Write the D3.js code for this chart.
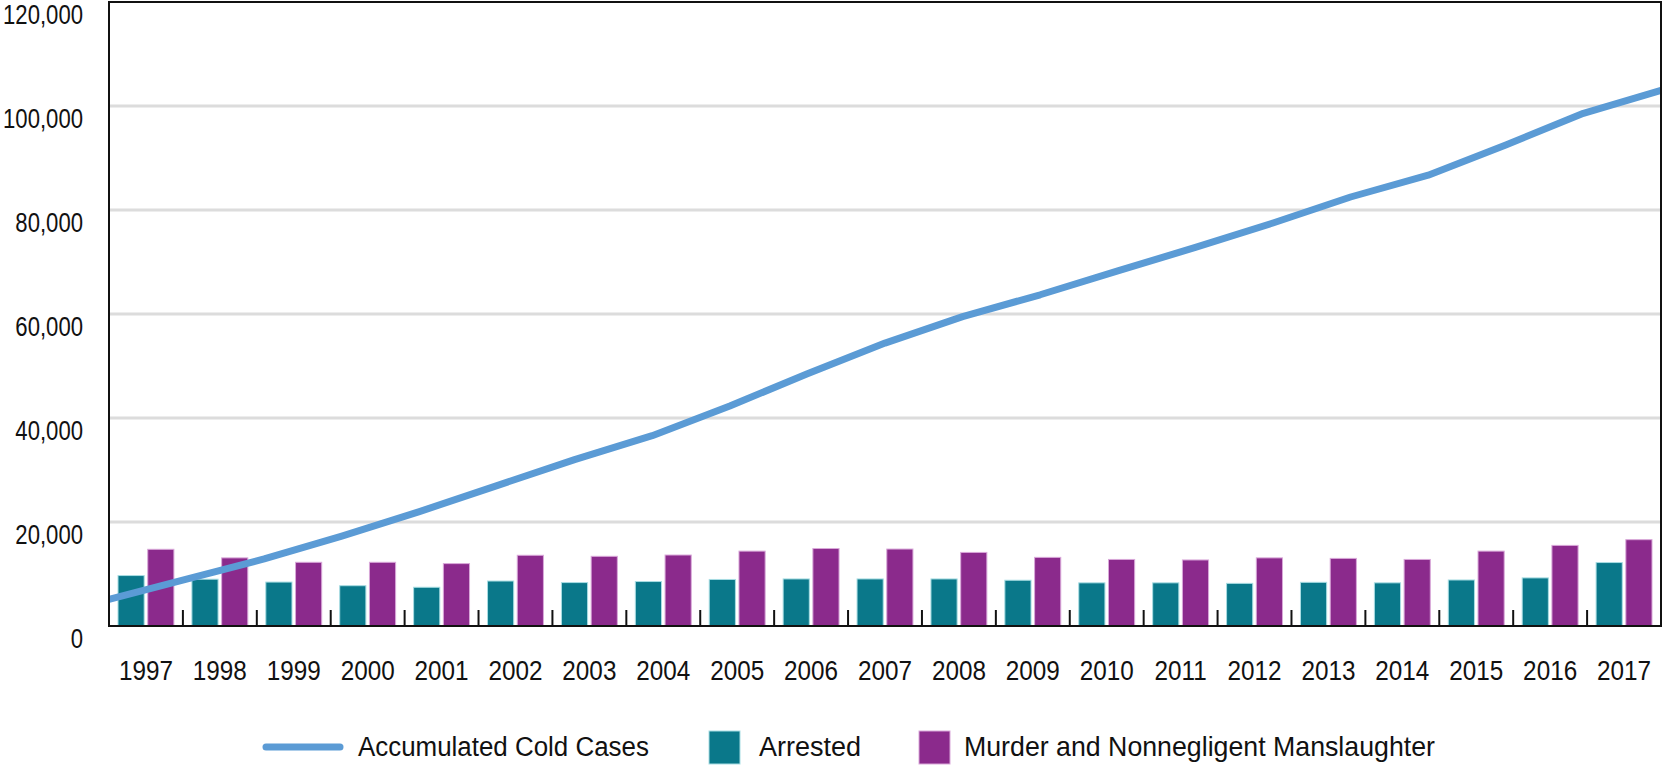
<!DOCTYPE html>
<html>
<head>
<meta charset="utf-8">
<script src="https://cdn.jsdelivr.net/npm/d3@7/dist/d3.min.js"></script>
<style>
  html, body { margin: 0; padding: 0; background: #fff; }
  svg { display: block; }
  text { font-family: "Liberation Sans Narrow", "Arial Narrow", "Liberation Sans", sans-serif; fill: #111; }
</style>
</head>
<body>
<svg id="chart" width="1664" height="765"></svg>
<script>
const years = ["1997","1998","1999","2000","2001","2002","2003","2004","2005","2006","2007","2008","2009","2010","2011","2012","2013","2014","2015","2016","2017"];
const arrested = [9700, 9000, 8450, 7750, 7450, 8650, 8350, 8550, 8950, 9050, 9050, 9050, 8800, 8300, 8300, 8200, 8400, 8300, 8850, 9250, 12200];
const murder = [14750, 13100, 12250, 12250, 12000, 13600, 13400, 13650, 14400, 14900, 14800, 14150, 13200, 12800, 12700, 13100, 13000, 12800, 14400, 15500, 16600];
const coldCases = [5100, 9000, 12900, 17300, 22000, 27000, 32000, 36600, 42300, 48500, 54400, 59500, 63700, 68300, 72800, 77500, 82500, 86700, 92500, 98600, 103000];
const yTicks = [0, 20000, 40000, 60000, 80000, 100000, 120000];
const seriesNames = ["Accumulated Cold Cases", "Arrested", "Murder and Nonnegligent Manslaughter"];

const colors = { line: "#5b9bd5", arrested: "#0a788a", murder: "#8b2a8c" };
const strokes = { arrested: "#a8dde3", murder: "#d9a8d9" };

const svg = d3.select("#chart");
const L = 109, R = 1661, T = 2, B = 626;

const x = d3.scaleBand().domain(years).range([L, R]).paddingInner(0).paddingOuter(0);
const x1 = d3.scaleBand().domain(["arrested", "murder"]).range([9, x.bandwidth() - 9]).paddingInner(0.12);
const xLine = d3.scalePoint().domain(years).range([L, R]).padding(0);
const y = d3.scaleLinear().domain([0, 120000]).range([B, T]);

// gridlines
svg.append("g").selectAll("line").data(yTicks.filter(d => d > 0 && d < 120000)).join("line")
  .attr("x1", L).attr("x2", R).attr("y1", d => y(d)).attr("y2", d => y(d))
  .attr("stroke", "#dcdcdc").attr("stroke-width", 3);

// y labels (condensed via horizontal scale)
const fmt = d3.format(",");
svg.append("g").selectAll("text").data(yTicks).join("text")
  .attr("transform", d => `translate(83,${y(d) + 13}) scale(0.82,1)`)
  .attr("dy", "0.35em")
  .attr("text-anchor", "end").attr("font-size", 27).text(d => fmt(d));

// bars
const g = svg.append("g");
years.forEach((yr, i) => {
  const vals = [["arrested", arrested[i]], ["murder", murder[i]]];
  g.selectAll(null).data(vals).join("rect")
    .attr("x", d => x(yr) + x1(d[0]))
    .attr("width", x1.bandwidth())
    .attr("y", d => y(d[1]))
    .attr("height", d => B - y(d[1]))
    .attr("fill", d => colors[d[0]])
    .attr("stroke", d => strokes[d[0]])
    .attr("stroke-width", 1);
});

// line
const line = d3.line().x((d, i) => xLine(years[i])).y(d => y(d));
svg.append("path").datum(coldCases).attr("d", line)
  .attr("fill", "none").attr("stroke", colors.line).attr("stroke-width", 7)
  .attr("stroke-linejoin", "round");

// frame
svg.append("rect").attr("x", L).attr("y", T).attr("width", R - L).attr("height", B - T)
  .attr("fill", "none").attr("stroke", "#111").attr("stroke-width", 2);

// x ticks (band boundaries, pointing up)
const boundaries = years.slice(1).map(yr => x(yr)).concat([R]);
svg.append("g").selectAll("line").data(boundaries).join("line")
  .attr("x1", d => d).attr("x2", d => d).attr("y1", 610).attr("y2", B)
  .attr("stroke", "#111").attr("stroke-width", 2);

// x labels
svg.append("g").selectAll("text").data(years).join("text")
  .attr("transform", d => `translate(${x(d) + x.bandwidth() / 2},671) scale(0.9,1)`)
  .attr("dy", "0.35em")
  .attr("text-anchor", "middle").attr("font-size", 27).text(d => d);

// legend
const lg = svg.append("g");
lg.append("line").attr("x1", 266).attr("x2", 340).attr("y1", 747).attr("y2", 747)
  .attr("stroke", colors.line).attr("stroke-width", 7).attr("stroke-linecap", "round");
lg.append("text").attr("transform", "translate(358,747) scale(0.96,1)").attr("dy", "0.35em").attr("font-size", 27).text(seriesNames[0]);
lg.append("rect").attr("x", 709).attr("y", 731).attr("width", 31).attr("height", 33)
  .attr("fill", colors.arrested).attr("stroke", strokes.arrested).attr("stroke-width", 1);
lg.append("text").attr("transform", "translate(759,747)").attr("dy", "0.35em").attr("font-size", 27).text(seriesNames[1]);
lg.append("rect").attr("x", 919).attr("y", 731).attr("width", 31).attr("height", 33)
  .attr("fill", colors.murder).attr("stroke", strokes.murder).attr("stroke-width", 1);
lg.append("text").attr("transform", "translate(964,747) scale(0.99,1)").attr("dy", "0.35em").attr("font-size", 27).text(seriesNames[2]);
</script>
</body>
</html>
